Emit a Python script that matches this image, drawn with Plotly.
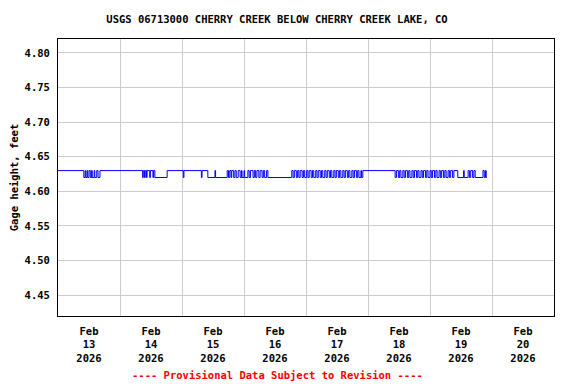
import pandas as pd
import plotly.graph_objects as go

title_text = "USGS 06713000 CHERRY CREEK BELOW CHERRY CREEK LAKE, CO"
y_label = "Gage height, feet"
footer = "---- Provisional Data Subject to Revision ----"
start_time = "2026-02-13 00:00"

# Change points (hours since Feb 13 00:00) and the gage height (ft) held from each point
change_hours = [
    0.0, 10.0, 10.5, 10.75, 11.25, 11.5, 12.0, 12.5, 13.0, 13.25, 14.0, 14.25, 15.0, 15.5, 16.25,
    32.75, 33.0, 33.5, 33.75, 34.25, 34.5, 35.5, 35.75, 36.75, 37.0, 37.5, 42.25,
    48.5, 48.75, 55.5, 55.75, 58.0, 60.75, 61.0, 65.5,
    66.0, 66.5, 67.0, 67.25, 68.0, 68.5, 69.0, 69.75, 70.5, 71.0, 71.25, 72.0, 72.25, 73.5,
    74.0, 74.5, 75.5, 76.0, 76.5, 77.0, 77.75, 78.25, 79.0, 79.5, 80.0, 80.75, 81.25, 90.5,
    91.0, 91.5, 92.25, 92.75, 93.25, 93.75, 94.5, 95.0, 95.5, 96.25, 96.75, 97.25, 98.0, 98.5,
    99.0, 99.75, 100.25, 100.75, 101.5, 102.0, 102.5, 103.25, 103.75, 104.25, 105.0, 105.5,
    106.0, 106.75, 107.25, 107.75, 108.5, 109.0, 109.5, 110.25, 110.75, 111.25, 112.0, 112.5,
    113.0, 113.75, 114.25, 114.75, 115.5, 116.0, 116.5, 117.25, 117.5, 118.0,
    130.5, 131.0, 131.75, 132.25, 132.75, 133.5, 134.0, 134.5, 135.25, 135.75, 136.25, 137.0,
    137.5, 138.0, 138.75, 139.25, 139.75, 140.5, 141.0, 141.5, 142.25, 142.75, 143.25, 144.0,
    144.5, 145.0, 145.75, 146.25, 146.75, 147.5, 148.0, 148.5, 149.25, 149.75, 150.25, 151.0,
    151.5, 152.0, 152.75, 153.25, 154.75, 157.0, 157.25, 158.75, 159.25, 159.75, 160.5, 161.0,
    161.5, 164.5, 165.0, 165.5, 165.75, 166.0,
]
change_levels = [
    4.63, 4.62, 4.63, 4.62, 4.63, 4.62, 4.63, 4.62, 4.63, 4.62, 4.63, 4.62, 4.63, 4.62, 4.63,
    4.62, 4.63, 4.62, 4.63, 4.62, 4.63, 4.62, 4.63, 4.62, 4.63, 4.62, 4.63,
    4.62, 4.63, 4.62, 4.63, 4.62, 4.63, 4.62, 4.63,
    4.62, 4.63, 4.62, 4.63, 4.62, 4.63, 4.62, 4.63, 4.62, 4.63, 4.62, 4.63, 4.62, 4.63,
    4.62, 4.63, 4.62, 4.63, 4.62, 4.63, 4.62, 4.63, 4.62, 4.63, 4.62, 4.63, 4.62, 4.63,
    4.62, 4.63, 4.62, 4.63, 4.62, 4.63, 4.62, 4.63, 4.62, 4.63, 4.62, 4.63, 4.62, 4.63,
    4.62, 4.63, 4.62, 4.63, 4.62, 4.63, 4.62, 4.63, 4.62, 4.63, 4.62, 4.63,
    4.62, 4.63, 4.62, 4.63, 4.62, 4.63, 4.62, 4.63, 4.62, 4.63, 4.62, 4.63,
    4.62, 4.63, 4.62, 4.63, 4.62, 4.63, 4.62, 4.63, 4.62, 4.63,
    4.62, 4.63, 4.62, 4.63, 4.62, 4.63, 4.62, 4.63, 4.62, 4.63, 4.62, 4.63,
    4.62, 4.63, 4.62, 4.63, 4.62, 4.63, 4.62, 4.63, 4.62, 4.63, 4.62, 4.63,
    4.62, 4.63, 4.62, 4.63, 4.62, 4.63, 4.62, 4.63, 4.62, 4.63, 4.62, 4.63,
    4.62, 4.63, 4.62, 4.63, 4.62, 4.63, 4.62, 4.63, 4.62, 4.63, 4.62, 4.63,
    4.62, 4.63, 4.62, 4.63, 4.62, 4.62,
]

y_ticks = [4.45, 4.50, 4.55, 4.60, 4.65, 4.70, 4.75, 4.80]
y_range = [4.42, 4.82]
x_range = ["2026-02-13 00:00", "2026-02-21 00:00"]

t0 = pd.Timestamp(start_time)
times = [t0 + pd.Timedelta(hours=h) for h in change_hours]

FONT = "DejaVu Sans Mono"
W, H = 568, 376  # page body has an 8px margin
OFF = 8

fig = go.Figure()
fig.add_trace(go.Scatter(
    x=times, y=change_levels, mode="lines", line_shape="hv",
    line=dict(color="#0000ff", width=1), showlegend=False,
))

fig.update_layout(
    width=W, height=H,
    margin=dict(l=58 - OFF, r=22, t=39 - OFF, b=68, autoexpand=False),
    paper_bgcolor="white", plot_bgcolor="white",
    font=dict(family=FONT, size=10.5, color="black", weight="bold"),
    title=dict(text=title_text, x=(277 - OFF) / W, xanchor="center", y=1 - (19 - OFF) / H,
               yanchor="middle", yref="container",
               font=dict(family=FONT, size=10.5, color="black", weight="bold")),
    xaxis=dict(
        type="date", range=x_range, dtick=86400000, tick0="2026-02-13",
        ticklabelmode="period", tickformat="%b<br>%d<br>%Y",
        showgrid=True, gridcolor="#cccccc", gridwidth=1,
        showline=True, linecolor="black", linewidth=1, mirror=True,
        ticks="outside", ticklen=5, tickcolor="rgba(0,0,0,0)", zeroline=False,
        tickfont=dict(family=FONT, size=10.5, color="black", weight="bold"),
    ),
    yaxis=dict(
        range=y_range, tickvals=y_ticks, tickformat=".2f",
        showgrid=True, gridcolor="#cccccc", gridwidth=1,
        showline=True, linecolor="black", linewidth=1, mirror=True,
        ticks="outside", ticklen=5, tickcolor="rgba(0,0,0,0)", zeroline=False,
        title=dict(text=y_label, standoff=7,
                   font=dict(family=FONT, size=10.5, color="black", weight="bold")),
        tickfont=dict(family=FONT, size=10.5, color="black", weight="bold"),
    ),
    annotations=[dict(
        text=footer, xref="paper", yref="paper",
        x=(277 - 58) / 496, y=-(375 - 316) / 277, xanchor="center", yanchor="middle",
        showarrow=False,
        font=dict(family=FONT, size=10.5, color="red", weight="bold"),
    )],
)

fig.write_html("out.html")
